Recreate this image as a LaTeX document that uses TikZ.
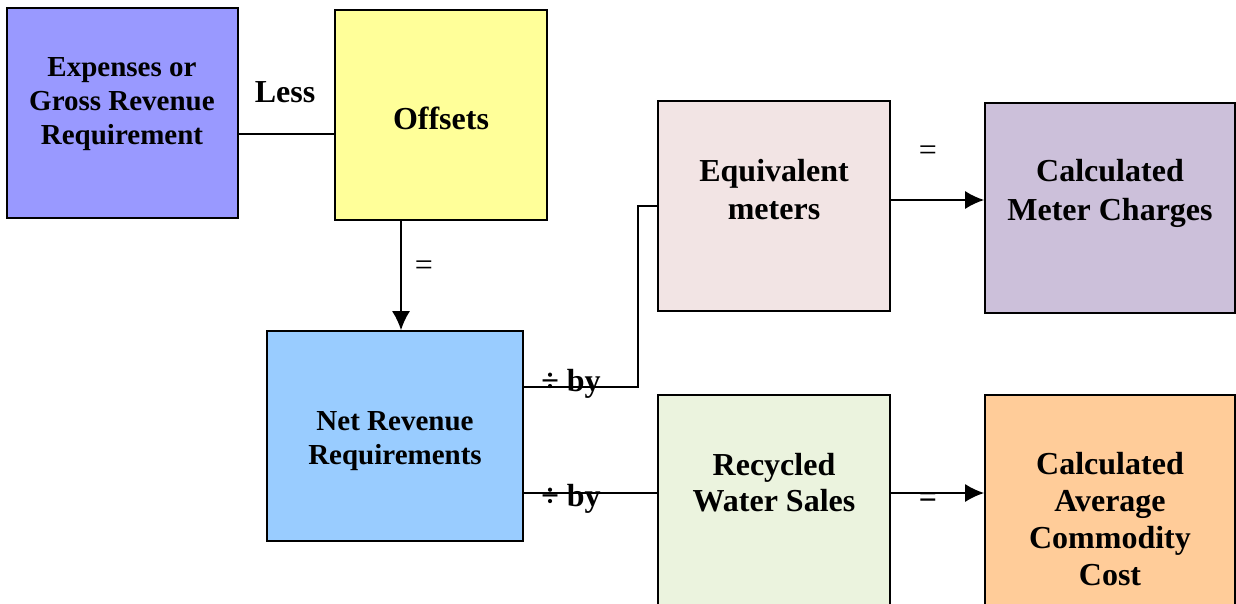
\documentclass[tikz,border=0pt]{standalone}
\usepackage{fontspec}
\setmainfont{Liberation Serif}
\usetikzlibrary{arrows.meta}

\definecolor{expcol}{HTML}{9999FF}
\definecolor{offcol}{HTML}{FFFF99}
\definecolor{netcol}{HTML}{99CCFF}
\definecolor{eqvcol}{HTML}{F2E4E4}
\definecolor{metcol}{HTML}{CCC0DA}
\definecolor{reccol}{HTML}{EBF3DE}
\definecolor{comcol}{HTML}{FFCC99}

\begin{document}
\begin{tikzpicture}[x=1pt,y=-1pt]

\tikzstyle{every node}=[inner sep=0pt]
\tikzstyle{box}=[draw, line width=1.6pt, minimum height=210pt]
\tikzstyle{big}=[font=\bfseries\fontsize{32}{38}\selectfont, align=center]
\tikzstyle{small}=[font=\bfseries\fontsize{29}{34}\selectfont, align=center]
\tikzstyle{link}=[line width=2pt]
\tikzstyle{arr}=[line width=2pt, -{Latex[length=19pt,width=18pt]}]

\clip (0,0) rectangle (1236,604);
\useasboundingbox (0,0) rectangle (1236,604);

% first row
\pgfmathsetmacro\y{113}
\node[box, fill=expcol, minimum width=231pt] (expenses) at (122.5, \y) {};
\node[small] (expenses_txt) at (122, \y - 9) {Expenses or\\Gross Revenue\\Requirement};

\node[box, fill=offcol, minimum width=212pt] (offsets) at (441, \y + 2) {};
\node[big] (offsets_txt) at (441, \y + 5) {Offsets};

\draw[link] ([yshift=-21pt]expenses.east) -- ([yshift=-21pt]expenses.east -| offsets.west);
\node[big] (less) at (285, 92) {Less};

% net revenue
\pgfmathsetmacro\y{436}
\node[box, fill=netcol, minimum width=256pt] (net) at (395, \y) {};
\node[small] (net_txt) at (395, \y + 5) {Net Revenue\\Requirements};

\draw[arr] ([xshift=-40pt]offsets.south) -- ([xshift=-40pt]offsets.south |- net.north);
\node[font=\fontsize{32}{34}\selectfont] (eq1) at (424, 268) {=};

% upper branch
\pgfmathsetmacro\y{206}
\node[box, fill=eqvcol, minimum width=232pt] (equiv) at (774, \y) {};
\node[big] (equiv_txt) at (774, \y - 16) {Equivalent\\meters};

\node[box, fill=metcol, minimum width=250pt] (meter) at (1110, \y + 2) {};
\node[big, font=\bfseries\fontsize{32}{39}\selectfont] (meter_txt) at (1110, \y - 13) {Calculated\\Meter Charges};

\coordinate (bend) at (638, 387);
\draw[link] ([yshift=49pt]net.east) -- (bend) |- (equiv.west);
\node[big] (div1) at (571, 384) {÷ by};

\draw[arr] ([yshift=6pt]equiv.east) -- ([yshift=6pt]equiv.east -| meter.west);
\node[font=\fontsize{32}{34}\selectfont] (eq2) at (928, 153) {=};

% lower branch
\pgfmathsetmacro\y{500}
\node[box, fill=reccol, minimum width=232pt] (recycled) at (774, \y) {};
\node[big, font=\bfseries\fontsize{32}{36}\selectfont] (recycled_txt) at (774, \y - 17) {Recycled\\Water Sales};

\node[box, fill=comcol, minimum width=250pt] (commodity) at (1110, \y) {};
\node[big, font=\bfseries\fontsize{32}{37}\selectfont] (commodity_txt) at (1110, \y + 19) {Calculated\\Average\\Commodity\\Cost};

\draw[link] ([yshift=-57pt]net.east) -- ([yshift=-57pt]net.east -| recycled.west);
\node[big] (div2) at (571, 499) {÷ by};

\draw[arr] ([yshift=7pt]recycled.east) -- ([yshift=7pt]recycled.east -| commodity.west);
\node[font=\bfseries\fontsize{32}{34}\selectfont] (eq3) at (928, 500) {=};

\end{tikzpicture}
\end{document}
